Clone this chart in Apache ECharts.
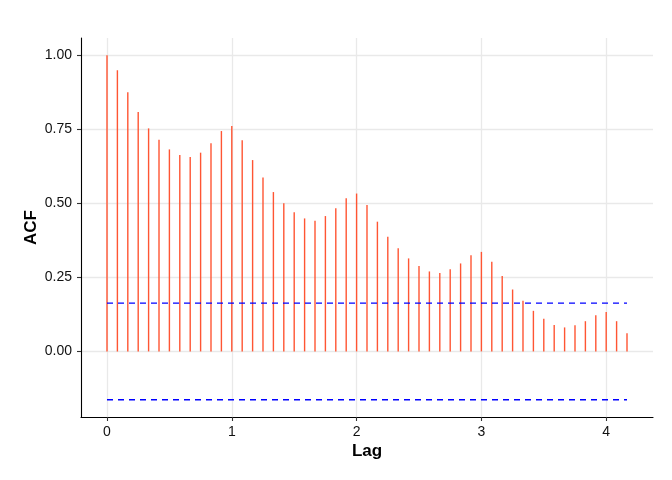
<!DOCTYPE html>
<html>
<head>
<meta charset="utf-8">
<script src="https://cdn.jsdelivr.net/npm/echarts@6/dist/echarts.min.js"></script>
<style>
html,body{margin:0;padding:0;background:#fff;}
#chart{width:672px;height:480px;}
</style>
</head>
<body>
<div id="chart"></div>
<script>
// Data
const lags = [0, 0.0833, 0.1667, 0.25, 0.3333, 0.4167, 0.5, 0.5833, 0.6667, 0.75,
  0.8333, 0.9167, 1, 1.0833, 1.1667, 1.25, 1.3333, 1.4167, 1.5, 1.5833,
  1.6667, 1.75, 1.8333, 1.9167, 2, 2.0833, 2.1667, 2.25, 2.3333, 2.4167,
  2.5, 2.5833, 2.6667, 2.75, 2.8333, 2.9167, 3, 3.0833, 3.1667, 3.25,
  3.3333, 3.4167, 3.5, 3.5833, 3.6667, 3.75, 3.8333, 3.9167, 4, 4.0833, 4.1667];
const acf = [1.000,0.949,0.875,0.808,0.753,0.715,0.682,0.663,0.656,0.671,
  0.703,0.744,0.761,0.713,0.646,0.587,0.538,0.500,0.470,0.449,
  0.441,0.457,0.483,0.517,0.533,0.494,0.438,0.387,0.348,0.314,
  0.288,0.270,0.265,0.277,0.297,0.325,0.336,0.303,0.255,0.209,
  0.171,0.137,0.110,0.089,0.081,0.088,0.102,0.122,0.133,0.102,0.061];
const confLimit = 0.1633;
const xTicks = [0, 1, 2, 3, 4];
const yTicks = [0, 0.25, 0.5, 0.75, 1];

// ggplot-like 5% expansion
const xLo = Math.min(...lags), xHi = Math.max(...lags);
const yLo = Math.min(-confLimit, ...acf), yHi = Math.max(confLimit, ...acf);
const xPad = (xHi - xLo) * 0.05, yPad = (yHi - yLo) * 0.05;

const barData = lags.map((l, i) => [l, acf[i]]);
const upper = [[lags[0], confLimit], [lags[lags.length - 1], confLimit]];
const lower = [[lags[0], -confLimit], [lags[lags.length - 1], -confLimit]];

const font = '"Liberation Sans", Arial, Helvetica, sans-serif';
const chart = echarts.init(document.getElementById('chart'), null, {renderer: 'canvas'});
chart.setOption({
  backgroundColor: '#ffffff',
  animation: false,
  grid: {left: 81, right: 19, top: 38, bottom: 63, containLabel: false},
  xAxis: {
    type: 'value',
    min: xLo - xPad, max: xHi + xPad,
    name: 'Lag', nameLocation: 'middle', nameGap: 26, nameMoveOverlap: false,
    nameTextStyle: {fontFamily: font, fontWeight: 'bold', fontSize: 17, color: '#000'},
    axisLine: {show: true, onZero: false, lineStyle: {color: '#000', width: 1.1}},
    axisTick: {show: true, length: 4, customValues: xTicks, lineStyle: {color: '#333', width: 1.1}},
    axisLabel: {customValues: xTicks, margin: 8, fontFamily: font, fontSize: 14, color: '#111',
      formatter: v => String(v)},
    splitLine: {show: true, lineStyle: {color: '#e9e9e9', width: 1.3}},
    minorSplitLine: {show: false}
  },
  yAxis: {
    type: 'value',
    min: yLo - yPad, max: yHi + yPad,
    name: 'ACF', nameLocation: 'middle', nameGap: 41, nameRotate: 90, nameMoveOverlap: false,
    nameTextStyle: {fontFamily: font, fontWeight: 'bold', fontSize: 17, color: '#000'},
    axisLine: {show: true, onZero: false, lineStyle: {color: '#000', width: 1.1}},
    axisTick: {show: true, length: 4, customValues: yTicks, lineStyle: {color: '#333', width: 1.1}},
    axisLabel: {customValues: yTicks, margin: 9, fontFamily: font, fontSize: 14, color: '#111',
      formatter: v => v.toFixed(2)},
    splitLine: {show: true, lineStyle: {color: '#e9e9e9', width: 1.3}}
  },
  series: [
    {
      type: 'custom',
      renderItem: function (params, api) {
        const p0 = api.coord([api.value(0), 0]);
        const p1 = api.coord([api.value(0), api.value(1)]);
        return {
          type: 'line',
          shape: {x1: p0[0], y1: p0[1], x2: p1[0], y2: p1[1]},
          style: {stroke: '#ff5533', lineWidth: 1.4}
        };
      },
      encode: {x: 0, y: 1},
      data: barData,
      z: 2
    },
    {
      type: 'line', data: upper, symbol: 'none', z: 3,
      lineStyle: {color: '#0000ff', width: 1.3, type: [6, 5]}
    },
    {
      type: 'line', data: lower, symbol: 'none', z: 3,
      lineStyle: {color: '#0000ff', width: 1.3, type: [6, 5]}
    }
  ]
});
</script>
</body>
</html>
